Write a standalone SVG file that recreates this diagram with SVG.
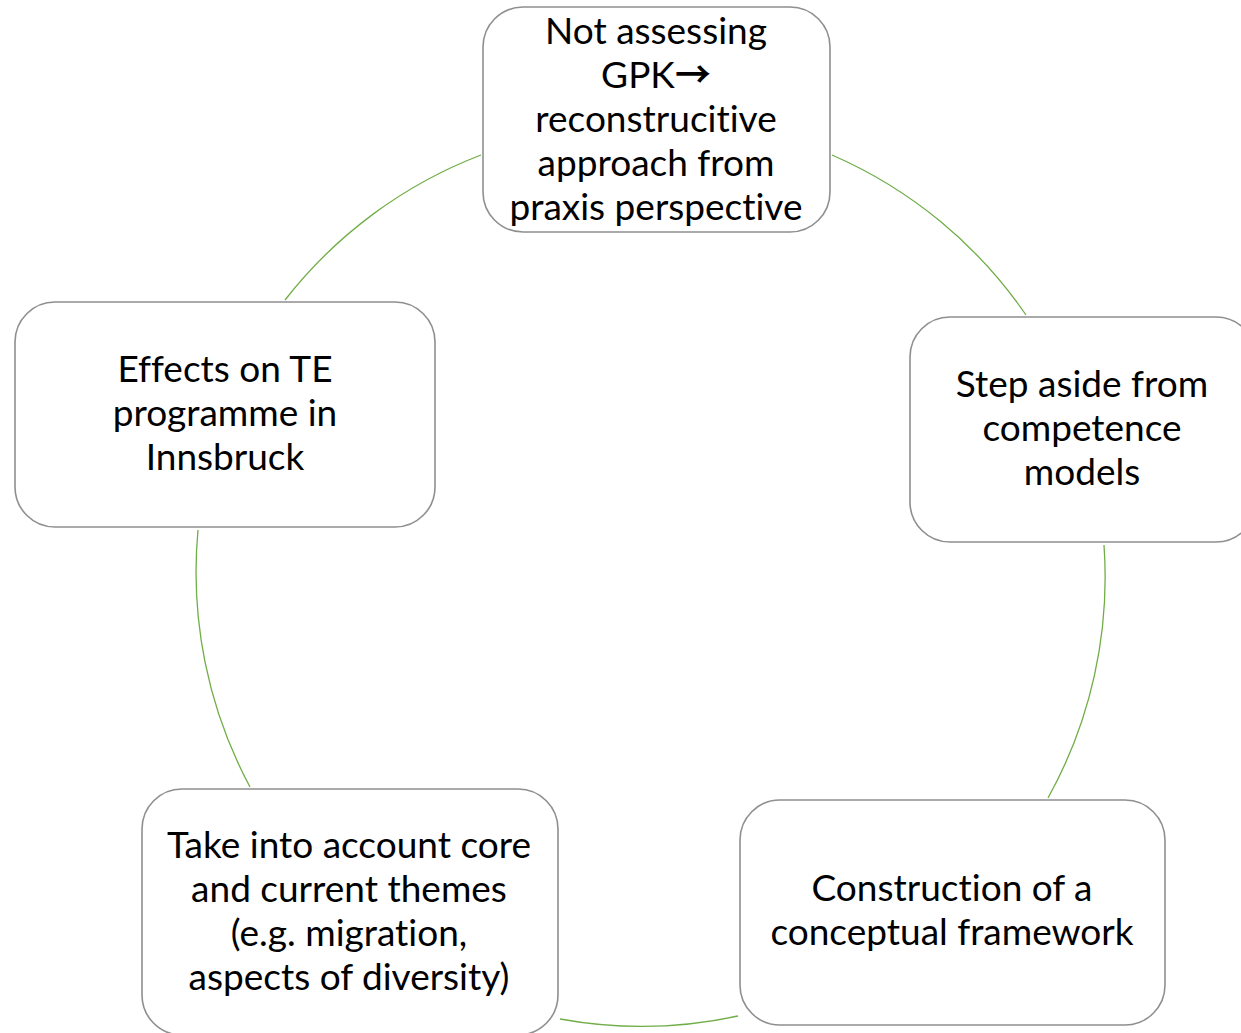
<svg xmlns="http://www.w3.org/2000/svg" width="1241" height="1033" viewBox="0 0 1241 1033">
  <style>
    .box { fill: #ffffff; stroke: #8f8f8f; stroke-width: 1.6; }
    .lbl { font-family: Lato, "Open Sans", "Liberation Sans", sans-serif; font-size: 37px; fill: #000000; text-anchor: middle; font-variant-ligatures: none; }
    .arrow { font-family: "Noto Sans CJK SC", sans-serif; font-weight: bold; font-size: 36px; }
    .arc { fill: none; stroke: #70ad47; stroke-width: 1.3; }
  </style>
  <rect width="1241" height="1033" fill="#ffffff"/>

  <!-- cycle connectors: arcs of one circle between the boxes -->
  <g id="connectors">
    <path class="arc" d="M 832 155 A 455 455 0 0 1 1026 315"/>
    <path class="arc" d="M 1104 545 A 455 455 0 0 1 1048 798"/>
    <path class="arc" d="M 738 1016 A 455 455 0 0 1 560 1019"/>
    <path class="arc" d="M 250 787 A 455 455 0 0 1 198 530"/>
    <path class="arc" d="M 285 300 A 455 455 0 0 1 481 155"/>
  </g>

  <g id="node-top">
    <rect class="box" x="483" y="7" width="347" height="225" rx="40"/>
    <text class="lbl" x="656" y="44">Not assessing</text>
    <text class="lbl" x="656" y="88">GPK<tspan class="arrow">→</tspan></text>
    <text class="lbl" x="656" y="132">reconstrucitive</text>
    <text class="lbl" x="656" y="176">approach from</text>
    <text class="lbl" x="656" y="220">praxis perspective</text>
  </g>

  <g id="node-right">
    <rect class="box" x="910" y="317" width="346" height="225" rx="40"/>
    <text class="lbl" x="1082" y="397">Step aside from</text>
    <text class="lbl" x="1082" y="441">competence</text>
    <text class="lbl" x="1082" y="485">models</text>
  </g>

  <g id="node-bottom-right">
    <rect class="box" x="740" y="800" width="425" height="225" rx="40"/>
    <text class="lbl" x="952" y="901">Construction of a</text>
    <text class="lbl" x="952" y="945">conceptual framework</text>
  </g>

  <g id="node-bottom-left">
    <rect class="box" x="142" y="789" width="416" height="246" rx="40"/>
    <text class="lbl" x="349" y="858">Take into account core</text>
    <text class="lbl" x="349" y="902">and current themes</text>
    <text class="lbl" x="349" y="946">(e.g. migration,</text>
    <text class="lbl" x="349" y="990">aspects of diversity)</text>
  </g>

  <g id="node-left">
    <rect class="box" x="15" y="302" width="420" height="225" rx="40"/>
    <text class="lbl" x="225" y="382">Effects on TE</text>
    <text class="lbl" x="225" y="426">programme in</text>
    <text class="lbl" x="225" y="470">Innsbruck</text>
  </g>
</svg>
